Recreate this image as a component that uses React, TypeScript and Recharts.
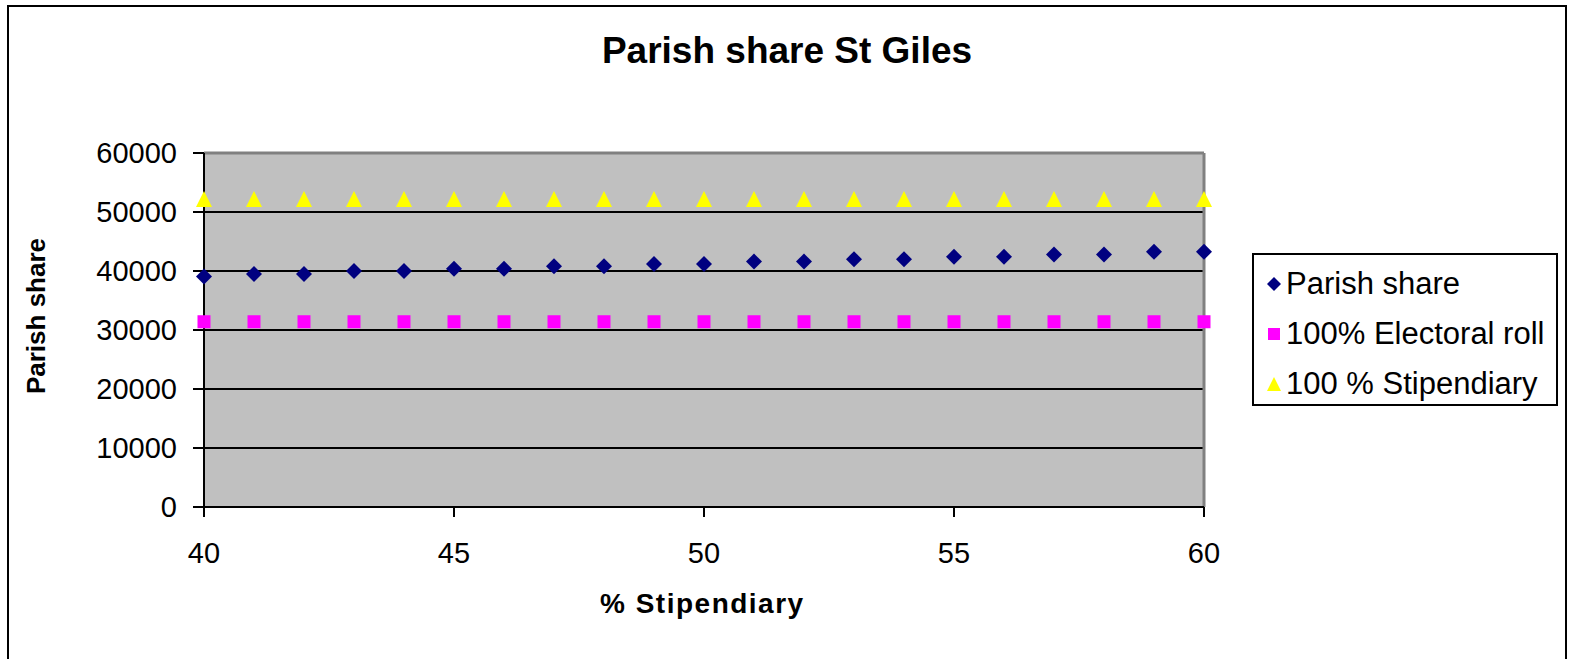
import React from 'react';
import {
  ScatterChart, Scatter, XAxis, YAxis, CartesianGrid, ReferenceLine,
} from 'recharts';

const stipendiary = [40, 41, 42, 43, 44, 45, 46, 47, 48, 49, 50, 51, 52, 53, 54, 55, 56, 57, 58, 59, 60];
const parishShare = [39050, 39500, 39500, 40000, 40000, 40400, 40400, 40800, 40800, 41200, 41200, 41600, 41600, 42000, 42000, 42400, 42400, 42800, 42800, 43250, 43250];
const electoralRoll = [31400, 31400, 31400, 31400, 31400, 31400, 31400, 31400, 31400, 31400, 31400, 31400, 31400, 31400, 31400, 31400, 31400, 31400, 31400, 31400, 31400];
const fullStipendiary = [52200, 52200, 52200, 52200, 52200, 52200, 52200, 52200, 52200, 52200, 52200, 52200, 52200, 52200, 52200, 52200, 52200, 52200, 52200, 52200, 52200];
const xTicks = [40, 45, 50, 55, 60];
const yTicks = [0, 10000, 20000, 30000, 40000, 50000, 60000];

const seriesNames = ['Parish share', '100% Electoral roll', '100 % Stipendiary'];
const seriesColors = ['#000080', '#FF00FF', '#FFFF00'];

const toPoints = (vals: number[]) => stipendiary.map((x, i) => ({ x, y: vals[i] }));

const FONT = '"Liberation Sans", Arial, sans-serif';

const Diamond = ({ cx, cy }: any) => (
  <polygon points={`${cx},${cy - 8} ${cx + 8},${cy} ${cx},${cy + 8} ${cx - 8},${cy}`} fill={seriesColors[0]} />
);
const Square = ({ cx, cy }: any) => (
  <rect x={cx - 6.5} y={cy - 6.5} width={13} height={13} fill={seriesColors[1]} />
);
const Triangle = ({ cx, cy }: any) => (
  <polygon points={`${cx},${cy - 8} ${cx + 8},${cy + 8} ${cx - 8},${cy + 8}`} fill={seriesColors[2]} />
);

function LegendBox() {
  const icons = [
    <polygon key="d" points="8,1 15,8 8,15 1,8" fill={seriesColors[0]} />,
    <rect key="s" x={2} y={2} width={12} height={12} fill={seriesColors[1]} />,
    <polygon key="t" points="8,1 15,15 1,15" fill={seriesColors[2]} />,
  ];
  return (
    <div style={{
      position: 'absolute', left: 1252, top: 253,
      boxSizing: 'border-box', width: 306, height: 153, border: '2px solid #000',
      background: '#fff', padding: '4px 0 0 12px', fontFamily: FONT, fontSize: 31,
    }}>
      {seriesNames.map((n, i) => (
        <div key={n} style={{ display: 'flex', alignItems: 'center', height: 50, whiteSpace: 'nowrap' }}>
          <svg width={16} height={16} style={{ marginRight: 4 }}>{icons[i]}</svg>
          <span>{n}</span>
        </div>
      ))}
    </div>
  );
}

export default function App() {
  return (
    <div style={{ position: 'absolute', left: 0, top: 0, width: 1569, height: 659, background: '#fff', overflow: 'hidden' }}>
      <div style={{ position: 'absolute', left: 7, top: 5, width: 1560, height: 700, border: '2px solid #000', boxSizing: 'border-box' }} />
      <div style={{ position: 'absolute', left: 0, width: 1574, top: 30, textAlign: 'center', fontFamily: FONT, fontWeight: 'bold', fontSize: 37 }}>
        Parish share St Giles
      </div>
      <div style={{ position: 'absolute', left: 600, width: 220, top: 588, fontFamily: FONT, fontWeight: 'bold', fontSize: 28, letterSpacing: 1.5, whiteSpace: 'nowrap' }}>
        % Stipendiary
      </div>
      <div style={{
        position: 'absolute', left: 36, top: 316, transform: 'translate(-50%, -50%) rotate(-90deg)',
        fontFamily: FONT, fontWeight: 'bold', fontSize: 26, whiteSpace: 'nowrap',
      }}>
        Parish share
      </div>
      <ScatterChart width={1569} height={659} margin={{ top: 153, right: 365, bottom: 72, left: 54 }}
        style={{ position: 'absolute', left: 0, top: 0 }}>
        <CartesianGrid vertical={false} stroke="#000" strokeWidth={2} fill="#C0C0C0" fillOpacity={1} />
        <ReferenceLine y={60000} stroke="#808080" strokeWidth={3} />
        <ReferenceLine x={60} stroke="#808080" strokeWidth={3} />
        <XAxis type="number" dataKey="x" domain={[40, 60]} ticks={xTicks} height={80} interval={0}
          axisLine={{ stroke: '#000', strokeWidth: 2 }} tickLine={{ stroke: '#000', strokeWidth: 2 }}
          tickSize={10} tickMargin={25} tick={{ fill: '#000', fontSize: 29, fontFamily: FONT }} />
        <YAxis type="number" dataKey="y" domain={[0, 60000]} ticks={yTicks} width={150} interval={0}
          axisLine={{ stroke: '#000', strokeWidth: 2 }} tickLine={{ stroke: '#000', strokeWidth: 2 }}
          tickSize={11} tickMargin={16} tick={{ fill: '#000', fontSize: 29, fontFamily: FONT }} />
        <Scatter name={seriesNames[0]} data={toPoints(parishShare)} shape={Diamond} isAnimationActive={false} />
        <Scatter name={seriesNames[1]} data={toPoints(electoralRoll)} shape={Square} isAnimationActive={false} />
        <Scatter name={seriesNames[2]} data={toPoints(fullStipendiary)} shape={Triangle} isAnimationActive={false} />
      </ScatterChart>
      <LegendBox />
    </div>
  );
}
